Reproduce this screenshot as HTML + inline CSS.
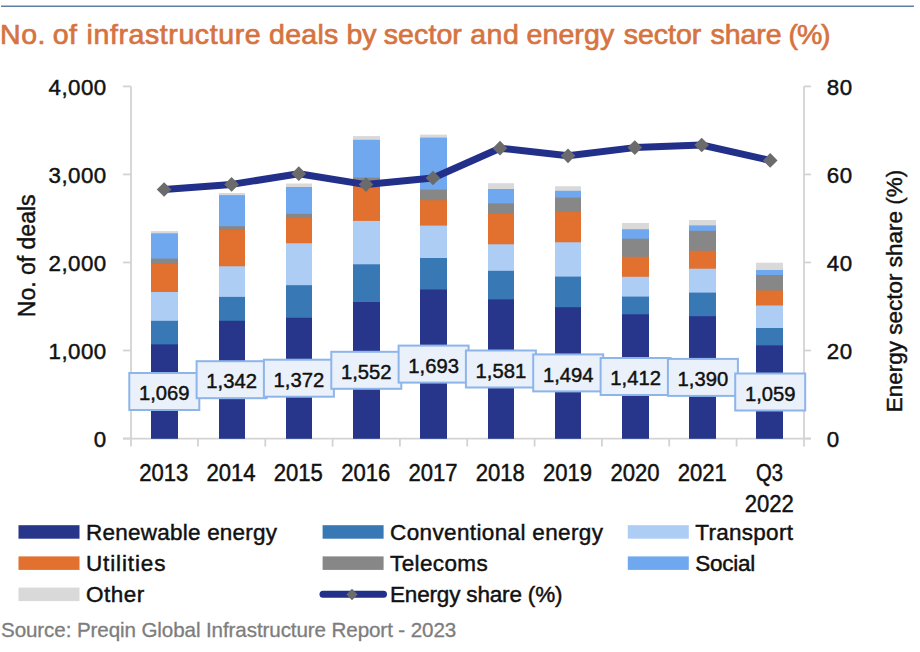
<!DOCTYPE html>
<html><head><meta charset="utf-8"><style>
html,body{margin:0;padding:0;background:#fff;width:920px;height:652px;overflow:hidden}
svg{display:block}
text{font-family:"Liberation Sans",sans-serif}
</style></head><body>
<svg width="920" height="652" viewBox="0 0 920 652">
<rect x="0" y="0" width="920" height="652" fill="#fff"/>
<line x1="1" y1="6.3" x2="914" y2="6.3" stroke="#5f80a3" stroke-width="1.6"/>
<text y="44.4" font-size="28.5" fill="#d6733f" stroke="#d6733f" stroke-width="0.7"><tspan x="0.07" letter-spacing="0.5">No.</tspan><tspan x="52.75" letter-spacing="0.5">of</tspan><tspan x="86.50" letter-spacing="0.6">infrastructure</tspan><tspan x="269.00" letter-spacing="0.3">deals</tspan><tspan x="346.50" letter-spacing="0">by</tspan><tspan x="383.75" letter-spacing="0.1">sector</tspan><tspan x="470.25" letter-spacing="0.5">and</tspan><tspan x="526.50" letter-spacing="0.1">energy</tspan><tspan x="623.75" letter-spacing="0">sector</tspan><tspan x="710.40" letter-spacing="0">share</tspan><tspan x="788.60" letter-spacing="-1.2">(%)</tspan></text>
<g stroke="#d3d3d3" stroke-width="1.8" fill="none">
<line x1="131" y1="86.4" x2="131" y2="446.5"/>
<line x1="804" y1="86.4" x2="804" y2="446.5"/>
<line x1="123" y1="86.40" x2="131" y2="86.40"/>
<line x1="804" y1="86.40" x2="811" y2="86.40"/>
<line x1="123" y1="174.43" x2="131" y2="174.43"/>
<line x1="804" y1="174.43" x2="811" y2="174.43"/>
<line x1="123" y1="262.46" x2="131" y2="262.46"/>
<line x1="804" y1="262.46" x2="811" y2="262.46"/>
<line x1="123" y1="350.49" x2="131" y2="350.49"/>
<line x1="804" y1="350.49" x2="811" y2="350.49"/>
<line x1="123" y1="438.52" x2="131" y2="438.52"/>
<line x1="804" y1="438.52" x2="811" y2="438.52"/>
<line x1="123" y1="438.6" x2="811" y2="438.6"/>
<line x1="197.93" y1="438.6" x2="197.93" y2="446.5"/>
<line x1="265.26" y1="438.6" x2="265.26" y2="446.5"/>
<line x1="332.59" y1="438.6" x2="332.59" y2="446.5"/>
<line x1="399.92" y1="438.6" x2="399.92" y2="446.5"/>
<line x1="467.25" y1="438.6" x2="467.25" y2="446.5"/>
<line x1="534.58" y1="438.6" x2="534.58" y2="446.5"/>
<line x1="601.91" y1="438.6" x2="601.91" y2="446.5"/>
<line x1="669.24" y1="438.6" x2="669.24" y2="446.5"/>
<line x1="736.57" y1="438.6" x2="736.57" y2="446.5"/>
</g>
<g>
<rect x="151.00" y="231.10" width="27" height="207.50" fill="#d9d9d9"/>
<rect x="151.00" y="233.30" width="27" height="205.30" fill="#70a8ef"/>
<rect x="151.00" y="258.60" width="27" height="180.00" fill="#878787"/>
<rect x="151.00" y="263.80" width="27" height="174.80" fill="#e2702f"/>
<rect x="151.00" y="292.00" width="27" height="146.60" fill="#aecdf5"/>
<rect x="151.00" y="320.80" width="27" height="117.80" fill="#3878b5"/>
<rect x="151.00" y="344.40" width="27" height="94.20" fill="#27368a"/>
<rect x="219.00" y="193.00" width="26" height="245.60" fill="#d9d9d9"/>
<rect x="219.00" y="195.10" width="26" height="243.50" fill="#70a8ef"/>
<rect x="219.00" y="226.20" width="26" height="212.40" fill="#878787"/>
<rect x="219.00" y="229.80" width="26" height="208.80" fill="#e2702f"/>
<rect x="219.00" y="266.30" width="26" height="172.30" fill="#aecdf5"/>
<rect x="219.00" y="296.90" width="26" height="141.70" fill="#3878b5"/>
<rect x="219.00" y="320.80" width="26" height="117.80" fill="#27368a"/>
<rect x="286.00" y="183.50" width="26" height="255.10" fill="#d9d9d9"/>
<rect x="286.00" y="187.00" width="26" height="251.60" fill="#70a8ef"/>
<rect x="286.00" y="213.80" width="26" height="224.80" fill="#878787"/>
<rect x="286.00" y="217.70" width="26" height="220.90" fill="#e2702f"/>
<rect x="286.00" y="243.30" width="26" height="195.30" fill="#aecdf5"/>
<rect x="286.00" y="285.20" width="26" height="153.40" fill="#3878b5"/>
<rect x="286.00" y="317.80" width="26" height="120.80" fill="#27368a"/>
<rect x="353.00" y="136.10" width="27" height="302.50" fill="#d9d9d9"/>
<rect x="353.00" y="139.80" width="27" height="298.80" fill="#70a8ef"/>
<rect x="353.00" y="177.60" width="27" height="261.00" fill="#878787"/>
<rect x="353.00" y="184.50" width="27" height="254.10" fill="#e2702f"/>
<rect x="353.00" y="220.90" width="27" height="217.70" fill="#aecdf5"/>
<rect x="353.00" y="264.30" width="27" height="174.30" fill="#3878b5"/>
<rect x="353.00" y="302.00" width="27" height="136.60" fill="#27368a"/>
<rect x="420.00" y="134.60" width="27" height="304.00" fill="#d9d9d9"/>
<rect x="420.00" y="137.60" width="27" height="301.00" fill="#70a8ef"/>
<rect x="420.00" y="189.60" width="27" height="249.00" fill="#878787"/>
<rect x="420.00" y="200.20" width="27" height="238.40" fill="#e2702f"/>
<rect x="420.00" y="225.60" width="27" height="213.00" fill="#aecdf5"/>
<rect x="420.00" y="258.00" width="27" height="180.60" fill="#3878b5"/>
<rect x="420.00" y="289.50" width="27" height="149.10" fill="#27368a"/>
<rect x="488.00" y="183.20" width="26" height="255.40" fill="#d9d9d9"/>
<rect x="488.00" y="189.00" width="26" height="249.60" fill="#70a8ef"/>
<rect x="488.00" y="203.40" width="26" height="235.20" fill="#878787"/>
<rect x="488.00" y="213.70" width="26" height="224.90" fill="#e2702f"/>
<rect x="488.00" y="244.30" width="26" height="194.30" fill="#aecdf5"/>
<rect x="488.00" y="270.80" width="26" height="167.80" fill="#3878b5"/>
<rect x="488.00" y="299.40" width="26" height="139.20" fill="#27368a"/>
<rect x="555.00" y="186.20" width="26" height="252.40" fill="#d9d9d9"/>
<rect x="555.00" y="190.80" width="26" height="247.80" fill="#70a8ef"/>
<rect x="555.00" y="197.60" width="26" height="241.00" fill="#878787"/>
<rect x="555.00" y="211.60" width="26" height="227.00" fill="#e2702f"/>
<rect x="555.00" y="242.30" width="26" height="196.30" fill="#aecdf5"/>
<rect x="555.00" y="276.60" width="26" height="162.00" fill="#3878b5"/>
<rect x="555.00" y="307.20" width="26" height="131.40" fill="#27368a"/>
<rect x="622.00" y="223.00" width="27" height="215.60" fill="#d9d9d9"/>
<rect x="622.00" y="229.20" width="27" height="209.40" fill="#70a8ef"/>
<rect x="622.00" y="238.70" width="27" height="199.90" fill="#878787"/>
<rect x="622.00" y="256.80" width="27" height="181.80" fill="#e2702f"/>
<rect x="622.00" y="276.80" width="27" height="161.80" fill="#aecdf5"/>
<rect x="622.00" y="296.60" width="27" height="142.00" fill="#3878b5"/>
<rect x="622.00" y="314.30" width="27" height="124.30" fill="#27368a"/>
<rect x="689.00" y="220.00" width="27" height="218.60" fill="#d9d9d9"/>
<rect x="689.00" y="225.40" width="27" height="213.20" fill="#70a8ef"/>
<rect x="689.00" y="230.80" width="27" height="207.80" fill="#878787"/>
<rect x="689.00" y="250.80" width="27" height="187.80" fill="#e2702f"/>
<rect x="689.00" y="268.70" width="27" height="169.90" fill="#aecdf5"/>
<rect x="689.00" y="292.60" width="27" height="146.00" fill="#3878b5"/>
<rect x="689.00" y="316.20" width="27" height="122.40" fill="#27368a"/>
<rect x="756.00" y="262.70" width="27" height="175.90" fill="#d9d9d9"/>
<rect x="756.00" y="270.00" width="27" height="168.60" fill="#70a8ef"/>
<rect x="756.00" y="275.00" width="27" height="163.60" fill="#878787"/>
<rect x="756.00" y="290.50" width="27" height="148.10" fill="#e2702f"/>
<rect x="756.00" y="305.50" width="27" height="133.10" fill="#aecdf5"/>
<rect x="756.00" y="328.00" width="27" height="110.60" fill="#3878b5"/>
<rect x="756.00" y="345.40" width="27" height="93.20" fill="#27368a"/>
</g>
<polyline points="164.1,189.5 231.6,184.4 298.8,173.7 366.0,184.6 433.0,178.0 500.0,148.2 568.0,155.8 634.8,147.6 701.7,145.0 770.2,160.4" fill="none" stroke="#22308a" stroke-width="7" stroke-linejoin="round" stroke-linecap="round"/>
<rect x="158.9" y="184.3" width="10.4" height="10.4" fill="#6b6b6b" transform="rotate(45 164.1 189.5)"/>
<rect x="226.4" y="179.2" width="10.4" height="10.4" fill="#6b6b6b" transform="rotate(45 231.6 184.4)"/>
<rect x="293.6" y="168.5" width="10.4" height="10.4" fill="#6b6b6b" transform="rotate(45 298.8 173.7)"/>
<rect x="360.8" y="179.4" width="10.4" height="10.4" fill="#6b6b6b" transform="rotate(45 366.0 184.6)"/>
<rect x="427.8" y="172.8" width="10.4" height="10.4" fill="#6b6b6b" transform="rotate(45 433.0 178.0)"/>
<rect x="494.8" y="143.0" width="10.4" height="10.4" fill="#6b6b6b" transform="rotate(45 500.0 148.2)"/>
<rect x="562.8" y="150.6" width="10.4" height="10.4" fill="#6b6b6b" transform="rotate(45 568.0 155.8)"/>
<rect x="629.6" y="142.4" width="10.4" height="10.4" fill="#6b6b6b" transform="rotate(45 634.8 147.6)"/>
<rect x="696.5" y="139.8" width="10.4" height="10.4" fill="#6b6b6b" transform="rotate(45 701.7 145.0)"/>
<rect x="765.0" y="155.2" width="10.4" height="10.4" fill="#6b6b6b" transform="rotate(45 770.2 160.4)"/>
<rect x="129.3" y="373.0" width="70" height="37" fill="#eaf1fb" stroke="#8db5e9" stroke-width="2"/>
<text x="164.3" y="400.2" font-size="20.5" fill="#111" stroke="#111" stroke-width="0.45" text-anchor="middle" textLength="50.6" lengthAdjust="spacingAndGlyphs">1,069</text>
<rect x="196.6" y="361.2" width="70" height="37" fill="#eaf1fb" stroke="#8db5e9" stroke-width="2"/>
<text x="231.6" y="388.4" font-size="20.5" fill="#111" stroke="#111" stroke-width="0.45" text-anchor="middle" textLength="50.6" lengthAdjust="spacingAndGlyphs">1,342</text>
<rect x="263.9" y="359.7" width="70" height="37" fill="#eaf1fb" stroke="#8db5e9" stroke-width="2"/>
<text x="298.9" y="386.9" font-size="20.5" fill="#111" stroke="#111" stroke-width="0.45" text-anchor="middle" textLength="50.6" lengthAdjust="spacingAndGlyphs">1,372</text>
<rect x="331.3" y="351.8" width="70" height="37" fill="#eaf1fb" stroke="#8db5e9" stroke-width="2"/>
<text x="366.3" y="379.0" font-size="20.5" fill="#111" stroke="#111" stroke-width="0.45" text-anchor="middle" textLength="50.6" lengthAdjust="spacingAndGlyphs">1,552</text>
<rect x="398.6" y="345.6" width="70" height="37" fill="#eaf1fb" stroke="#8db5e9" stroke-width="2"/>
<text x="433.6" y="372.8" font-size="20.5" fill="#111" stroke="#111" stroke-width="0.45" text-anchor="middle" textLength="50.6" lengthAdjust="spacingAndGlyphs">1,693</text>
<rect x="465.9" y="350.5" width="70" height="37" fill="#eaf1fb" stroke="#8db5e9" stroke-width="2"/>
<text x="500.9" y="377.7" font-size="20.5" fill="#111" stroke="#111" stroke-width="0.45" text-anchor="middle" textLength="50.6" lengthAdjust="spacingAndGlyphs">1,581</text>
<rect x="533.2" y="354.4" width="70" height="37" fill="#eaf1fb" stroke="#8db5e9" stroke-width="2"/>
<text x="568.2" y="381.6" font-size="20.5" fill="#111" stroke="#111" stroke-width="0.45" text-anchor="middle" textLength="50.6" lengthAdjust="spacingAndGlyphs">1,494</text>
<rect x="600.6" y="358.0" width="70" height="37" fill="#eaf1fb" stroke="#8db5e9" stroke-width="2"/>
<text x="635.6" y="385.2" font-size="20.5" fill="#111" stroke="#111" stroke-width="0.45" text-anchor="middle" textLength="50.6" lengthAdjust="spacingAndGlyphs">1,412</text>
<rect x="667.9" y="358.9" width="70" height="37" fill="#eaf1fb" stroke="#8db5e9" stroke-width="2"/>
<text x="702.9" y="386.1" font-size="20.5" fill="#111" stroke="#111" stroke-width="0.45" text-anchor="middle" textLength="50.6" lengthAdjust="spacingAndGlyphs">1,390</text>
<rect x="735.2" y="373.5" width="70" height="37" fill="#eaf1fb" stroke="#8db5e9" stroke-width="2"/>
<text x="770.2" y="400.7" font-size="20.5" fill="#111" stroke="#111" stroke-width="0.45" text-anchor="middle" textLength="50.6" lengthAdjust="spacingAndGlyphs">1,059</text>
<text x="106.2" y="95.2" font-size="22.3" fill="#111" stroke="#111" stroke-width="0.45" text-anchor="end" letter-spacing="0.45" dx="0.45">4,000</text>
<text x="106.2" y="183.2" font-size="22.3" fill="#111" stroke="#111" stroke-width="0.45" text-anchor="end" letter-spacing="0.45" dx="0.45">3,000</text>
<text x="106.2" y="271.3" font-size="22.3" fill="#111" stroke="#111" stroke-width="0.45" text-anchor="end" letter-spacing="0.45" dx="0.45">2,000</text>
<text x="106.2" y="359.3" font-size="22.3" fill="#111" stroke="#111" stroke-width="0.45" text-anchor="end" letter-spacing="0.45" dx="0.45">1,000</text>
<text x="106.2" y="447.3" font-size="22.3" fill="#111" stroke="#111" stroke-width="0.45" text-anchor="end">0</text>
<text x="826.8" y="95.2" font-size="22.3" fill="#111" stroke="#111" stroke-width="0.45" letter-spacing="0.5">80</text>
<text x="826.8" y="183.2" font-size="22.3" fill="#111" stroke="#111" stroke-width="0.45" letter-spacing="0.5">60</text>
<text x="826.8" y="271.3" font-size="22.3" fill="#111" stroke="#111" stroke-width="0.45" letter-spacing="0.5">40</text>
<text x="826.8" y="359.3" font-size="22.3" fill="#111" stroke="#111" stroke-width="0.45" letter-spacing="0.5">20</text>
<text x="826.8" y="447.3" font-size="22.3" fill="#111" stroke="#111" stroke-width="0.45" letter-spacing="0.5">0</text>
<text x="163.7" y="480.6" font-size="23" fill="#111" stroke="#111" stroke-width="0.45" text-anchor="middle" textLength="49.1" lengthAdjust="spacingAndGlyphs">2013</text>
<text x="231.0" y="480.6" font-size="23" fill="#111" stroke="#111" stroke-width="0.45" text-anchor="middle" textLength="49.1" lengthAdjust="spacingAndGlyphs">2014</text>
<text x="298.3" y="480.6" font-size="23" fill="#111" stroke="#111" stroke-width="0.45" text-anchor="middle" textLength="49.1" lengthAdjust="spacingAndGlyphs">2015</text>
<text x="365.7" y="480.6" font-size="23" fill="#111" stroke="#111" stroke-width="0.45" text-anchor="middle" textLength="49.1" lengthAdjust="spacingAndGlyphs">2016</text>
<text x="433.0" y="480.6" font-size="23" fill="#111" stroke="#111" stroke-width="0.45" text-anchor="middle" textLength="49.1" lengthAdjust="spacingAndGlyphs">2017</text>
<text x="500.3" y="480.6" font-size="23" fill="#111" stroke="#111" stroke-width="0.45" text-anchor="middle" textLength="49.1" lengthAdjust="spacingAndGlyphs">2018</text>
<text x="567.6" y="480.6" font-size="23" fill="#111" stroke="#111" stroke-width="0.45" text-anchor="middle" textLength="49.1" lengthAdjust="spacingAndGlyphs">2019</text>
<text x="635.0" y="480.6" font-size="23" fill="#111" stroke="#111" stroke-width="0.45" text-anchor="middle" textLength="49.1" lengthAdjust="spacingAndGlyphs">2020</text>
<text x="702.3" y="480.6" font-size="23" fill="#111" stroke="#111" stroke-width="0.45" text-anchor="middle" textLength="49.1" lengthAdjust="spacingAndGlyphs">2021</text>
<text x="769.6" y="480.6" font-size="23" fill="#111" stroke="#111" stroke-width="0.45" text-anchor="middle" textLength="27" lengthAdjust="spacingAndGlyphs">Q3</text>
<text x="769.3" y="512" font-size="23" fill="#111" stroke="#111" stroke-width="0.45" text-anchor="middle" textLength="49.1" lengthAdjust="spacingAndGlyphs">2022</text>
<text x="0" y="0" font-size="23" fill="#111" stroke="#111" stroke-width="0.45" text-anchor="middle" transform="translate(35.4 255.8) rotate(-90)">No. of deals</text>
<text x="0" y="0" font-size="22.5" fill="#111" stroke="#111" stroke-width="0.45" text-anchor="middle" transform="translate(901.8 291) rotate(-90)">Energy sector share (%)</text>
<rect x="18.5" y="525.2" width="61" height="13.5" fill="#27368a"/>
<text x="86.0" y="540" font-size="22.5" fill="#111" stroke="#111" stroke-width="0.45" letter-spacing="0.23">Renewable energy</text>
<rect x="322.6" y="525.2" width="61" height="13.5" fill="#3878b5"/>
<text x="390.1" y="540" font-size="22.5" fill="#111" stroke="#111" stroke-width="0.45" letter-spacing="0.36">Conventional energy</text>
<rect x="627.8" y="525.2" width="61" height="13.5" fill="#aecdf5"/>
<text x="695.3" y="540" font-size="22.5" fill="#111" stroke="#111" stroke-width="0.45" letter-spacing="0.27">Transport</text>
<rect x="18.5" y="556.4" width="61" height="13.5" fill="#e2702f"/>
<text x="86.0" y="571.2" font-size="22.5" fill="#111" stroke="#111" stroke-width="0.45" letter-spacing="0.875">Utilities</text>
<rect x="322.6" y="556.4" width="61" height="13.5" fill="#878787"/>
<text x="390.1" y="571.2" font-size="22.5" fill="#111" stroke="#111" stroke-width="0.45" letter-spacing="0.37">Telecoms</text>
<rect x="627.8" y="556.4" width="61" height="13.5" fill="#70a8ef"/>
<text x="695.3" y="571.2" font-size="22.5" fill="#111" stroke="#111" stroke-width="0.45" letter-spacing="-0.28">Social</text>
<rect x="18.5" y="587.6" width="61" height="13.5" fill="#d9d9d9"/>
<text x="86.0" y="602.4" font-size="22.5" fill="#111" stroke="#111" stroke-width="0.45" letter-spacing="0.5">Other</text>
<line x1="323" y1="594.3" x2="383.5" y2="594.3" stroke="#22308a" stroke-width="7" stroke-linecap="round"/>
<rect x="348" y="590.5" width="8" height="8" fill="#6b6b6b" transform="rotate(45 352 594.5)"/>
<text x="390" y="602.4" font-size="22.5" fill="#111" stroke="#111" stroke-width="0.45" letter-spacing="-0.17">Energy share (%)</text>
<text x="1" y="637.2" font-size="20.6" fill="#7d7d7d" stroke="#7d7d7d" stroke-width="0.3" letter-spacing="-0.1">Source: Preqin Global Infrastructure Report - 2023</text>
</svg></body></html>
